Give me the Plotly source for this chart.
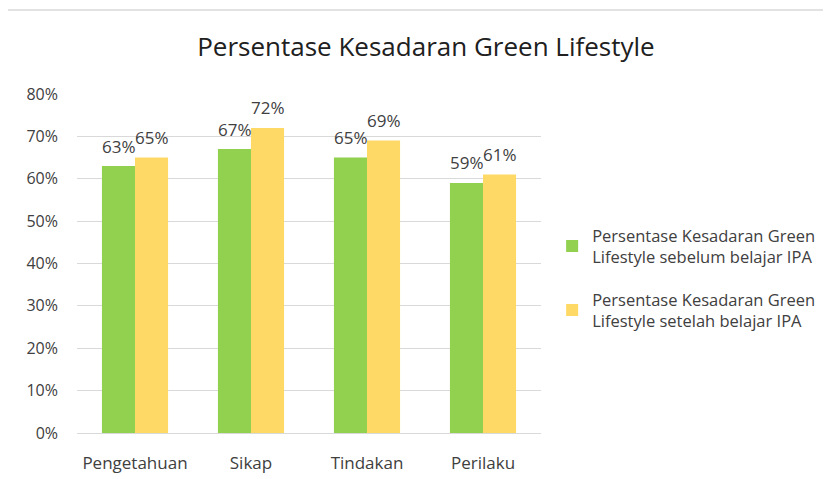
import plotly.graph_objects as go

categories = ["Pengetahuan", "Sikap", "Tindakan", "Perilaku"]
sebelum = [0.63, 0.67, 0.65, 0.59]
setelah = [0.65, 0.72, 0.69, 0.61]
series_names = [
    "Persentase Kesadaran Green<br>Lifestyle sebelum belajar IPA",
    "Persentase Kesadaran Green<br>Lifestyle setelah belajar IPA",
]
tick_vals = [0, 0.1, 0.2, 0.3, 0.4, 0.5, 0.6, 0.7, 0.8]
tick_text = ["0%", "10%", "20%", "30%", "40%", "50%", "60%", "70%", "80%"]

FONT = "Open Sans, Liberation Sans, sans-serif"
TXT = "#404040"
series = [(series_names[0], sebelum, "#92D050", -16.5), (series_names[1], setelah, "#FFD966", 16.5)]

fig = go.Figure()
for i, (name, vals, col, dx) in enumerate(series):
    fig.add_trace(go.Bar(
        x=categories, y=vals, name=name, legendgroup=f"g{i}",
        marker=dict(color=col, line=dict(width=0)),
    ))
    for c, v in zip(categories, vals):
        fig.add_annotation(x=c, y=v, text=f"{round(v*100)}%", showarrow=False,
                           xshift=dx, yshift=20, yanchor="middle", xanchor="center",
                           font=dict(size=17, color=TXT, family=FONT))

fig.update_layout(
    width=831, height=479,
    margin=dict(l=69, r=298, t=86, b=54, autoexpand=False),
    paper_bgcolor="white", plot_bgcolor="white",
    barmode="group", bargap=0.43, bargroupgap=0,
    title=dict(text="Persentase Kesadaran Green Lifestyle", x=0.752, xref="paper", xanchor="center",
               y=1 - 39 / 479, yref="container", yanchor="middle",
               font=dict(size=26, color="#202020", family=FONT)),
    legend=dict(x=1.024, y=0.457, xanchor="left", yanchor="middle", font=dict(size=16.5, color=TXT, family=FONT),
                itemwidth=30, tracegroupgap=18, bgcolor="rgba(0,0,0,0)", traceorder="grouped"),
    font=dict(family=FONT, color=TXT),
)
fig.update_yaxes(range=[0, 0.8], tickvals=tick_vals, ticktext=tick_text, showgrid=True,
                 gridcolor="#D9D9D9", gridwidth=1.3, zeroline=False, showline=False, automargin=False,
                 tickfont=dict(size=16, color=TXT, family=FONT), ticks="", ticklabelstandoff=18)
fig.update_xaxes(showline=True, linecolor="#D9D9D9", linewidth=1.3, automargin=False,
                 tickfont=dict(size=17, color=TXT, family=FONT), ticks="", ticklabelstandoff=14)

# outer chart border (top and left visible)
fig.add_shape(type="line", xref="paper", yref="paper", x0=-0.151, x1=1.7, y0=1.248, y1=1.248,
              line=dict(color="#D9D9D9", width=1.5))
fig.add_shape(type="line", xref="paper", yref="paper", x0=-0.151, x1=-0.151, y0=1.248, y1=-0.2,
              line=dict(color="#D9D9D9", width=1.5))

fig.write_html("out.html")
